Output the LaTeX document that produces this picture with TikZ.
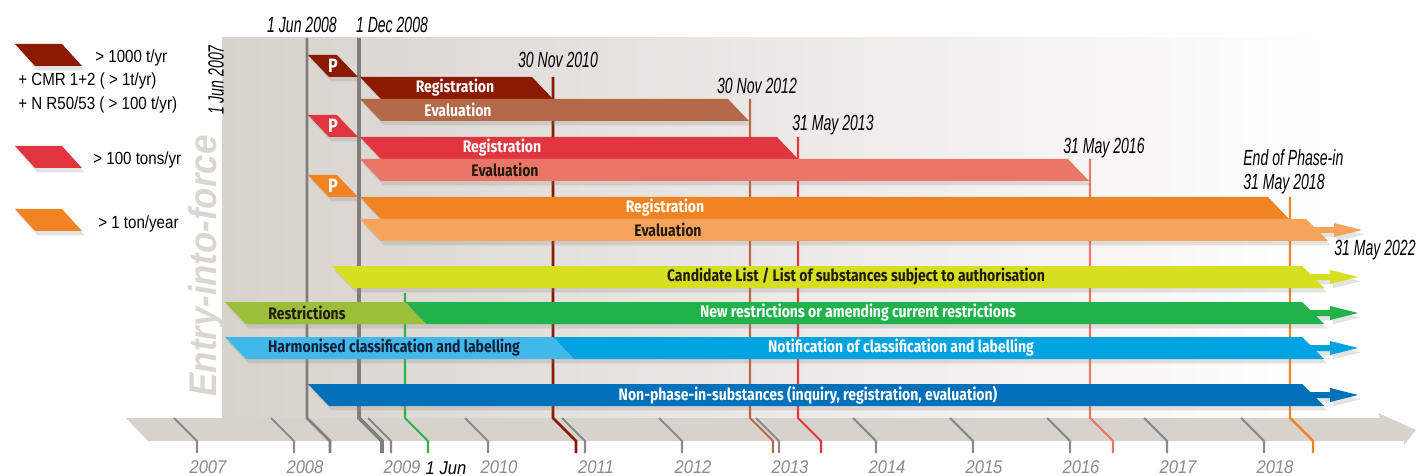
\documentclass[tikz,border=0pt]{standalone}
\usepackage{fontspec}
\usetikzlibrary{shadows}
\setmainfont{Liberation Sans}
\newfontfamily\barfam[FakeStretch=0.84]{Fira Sans}
\newfontfamily\datefam[FakeStretch=0.64]{Liberation Sans}
\newfontfamily\yearfam[FakeStretch=0.9]{Liberation Sans}
\newfontfamily\legfam[FakeStretch=0.86]{Liberation Sans}
\newcommand{\barfont}{\barfam\fontsize{9.5}{10}\selectfont\bfseries}
\newcommand{\datefont}{\datefam\fontsize{12.5}{14}\selectfont\itshape}
\newcommand{\yearfont}{\yearfam\fontsize{10.5}{12}\selectfont\itshape}
\newcommand{\legfont}{\legfam\fontsize{10}{12}\selectfont}
\definecolor{regdark}{HTML}{8B1A00}
\definecolor{evbrown}{HTML}{B4694A}
\definecolor{regred}{HTML}{E1363F}
\definecolor{evsalmon}{HTML}{EB7667}
\definecolor{regorange}{HTML}{F28322}
\definecolor{evlight}{HTML}{F6A35C}
\definecolor{candgreen}{HTML}{D7DF21}
\definecolor{restolive}{HTML}{9BBF3B}
\definecolor{newgreen}{HTML}{22B24C}
\definecolor{harmblue}{HTML}{40B8EA}
\definecolor{notblue}{HTML}{00A3E1}
\definecolor{npblue}{HTML}{0070B9}
\definecolor{evgrey}{HTML}{7E7E7E}
\definecolor{evgreen}{HTML}{2DB34A}
\definecolor{yeargrey}{HTML}{8A8A8A}
\definecolor{panelgrey}{HTML}{D8D2CC}
\definecolor{panelmid}{HTML}{E7E4E1}
\definecolor{entrygrey}{HTML}{DAD6D2}
\definecolor{darktext}{HTML}{231A12}
\definecolor{navytext}{HTML}{10203A}

% bar ending with a slant, and bar ending with an arrow
\newcommand{\slantbar}[4]{\fill[#4, shadowed] (#1,#3) -- (#2,#3) -- (#2+21,#3+22) -- (#1+21,#3+22) -- cycle;}
\newcommand{\arrowbar}[4]{\fill[#4, shadowed] (#1,#3) -- (#2,#3) -- (#2+8,#3+8) -- (#2+28,#3+8) -- (#2+28,#3+4)
  -- (#2+56,#3+11) -- (#2+28,#3+18) -- (#2+28,#3+14) -- (#2+14,#3+14) -- (#2+22,#3+22) -- (#1+21,#3+22) -- cycle;}

\begin{document}
\begin{tikzpicture}[x=0.02cm, y=-0.02cm,
  shadowed/.style={drop shadow={opacity=.22, shadow xshift=1.5pt, shadow yshift=-2.5pt}},
  bartext/.style={font=\barfont, inner sep=0pt},
  datetext/.style={font=\datefont, inner sep=0pt},
  yeartext/.style={font=\yearfont, text=yeargrey, inner sep=0pt},
  legtext/.style={font=\legfont, anchor=west, inner sep=0pt},
  yeartick/.style={yeargrey, line width=1.2pt}]
\useasboundingbox (0,0) rectangle (1416,476);

% panel and time axis
\shade[left color=panelgrey, middle color=panelmid, right color=white] (222,38) rectangle (1330,418);
\fill[panelgrey] (126,418) -- (1380,418) -- (1378,413) -- (1416,430) -- (1404,445) -- (1404,441) -- (148,441) -- cycle;

% years
\foreach \yr [count=\i from 0] in {2007,...,2018} {
  \pgfmathsetmacro{\x}{197+97*\i}
  \draw[yeartick] (\x-23,418) -- (\x,441) -- (\x,453);
  \node[yeartext] (y\yr) at (\x+11,467) {\yr};
}

% event lines
\foreach \x/\ytop/\c/\w in {307/38/evgrey/1.6, 359/38/evgrey/2.2, 405/293/evgreen/1.2,
    553/77/regdark/1.6, 750/99/evbrown/1.2, 798/137/regred/1.2, 1090/159/evsalmon/1.2, 1290/197/regorange/1.4}
  \draw[\c, line width=\w pt] (\x,\ytop) -- (\x,418) -- ++(23,23) -- ++(0,12);

% dates
\node[datetext] (jun08) at (302,25) {1 Jun 2008};
\node[datetext] (dec08) at (392,25) {1 Dec 2008};
\node[datetext] (nov10) at (558,60) {30 Nov 2010};
\node[datetext] (nov12) at (757,86) {30 Nov 2012};
\node[datetext] (may13) at (833,125) {31 May 2013};
\node[datetext] (may16) at (1104,148) {31 May 2016};
\node[datetext, align=left, anchor=west] (may18) at (1243,172) {End of Phase-in\\31 May 2018};
\node[datetext] (may22) at (1375,250) {31 May 2022};
\node[datetext, font=\yearfont, text=black] (jun09) at (446,468) {1 Jun};
\node[datetext, rotate=90] (jun07) at (216,80) {1 Jun 2007};
\node[font=\yearfam\fontsize{22}{24}\selectfont\itshape\bfseries, text=entrygrey, rotate=90, inner sep=0pt] (entry) at (207,266) {Entry-into-force};

% legend
\foreach \t/\c in {44/regdark, 146/regred, 209/regorange}
  \fill[\c, shadowed] (15,\t) -- (62,\t) -- (82,\t+22) -- (35,\t+22) -- cycle;
\node[legtext] (leg1) at (95,58) {> 1000 t/yr};
\node[legtext] (leg2) at (18,81) {+ CMR 1+2 ( > 1t/yr)};
\node[legtext] (leg3) at (18,105) {+ N R50/53 ( > 100 t/yr)};
\node[legtext] (leg4) at (93,160) {> 100 tons/yr};
\node[legtext] (leg5) at (98,224) {> 1 ton/year};

% pre-registration
\foreach \t/\c in {55/regdark, 115/regred, 175/regorange} {
  \fill[\c, shadowed] (308,\t) -- (337,\t) -- (358,\t+22) -- (329,\t+22) -- cycle;
  \node[bartext, text=white, font=\barfont\fontsize{11}{12}\selectfont] (p\t) at (333,\t+11) {P};
}

% registration and evaluation
\slantbar{360}{532}{77}{regdark}
\node[bartext, text=white] (reg1) at (455,88) {Registration};
\slantbar{360}{728}{99}{evbrown}
\node[bartext, text=white] (ev1) at (458,110) {Evaluation};
\slantbar{360}{777}{137}{regred}
\node[bartext, text=white] (reg2) at (502,148) {Registration};
\slantbar{360}{1068}{159}{evsalmon}
\node[bartext, text=darktext] (ev2) at (505,170) {Evaluation};
\slantbar{360}{1268}{197}{regorange}
\node[bartext, text=white] (reg3) at (665,208) {Registration};
\arrowbar{360}{1306}{219}{evlight}
\node[bartext, text=darktext] (ev3) at (668,230) {Evaluation};

% authorisation, restrictions, classification
\arrowbar{332}{1302}{266}{candgreen}
\node[bartext, text=darktext] (cand) at (856,277) {Candidate List / List of substances subject to authorisation};
\arrowbar{405}{1302}{302}{newgreen}
\node[bartext, text=white] (newres) at (858,313) {New restrictions or amending current restrictions};
\slantbar{225}{405}{302}{restolive}
\node[bartext, text=darktext] (res) at (307,313) {Restrictions};
\arrowbar{553}{1302}{337}{notblue}
\node[bartext, text=white] (notif) at (901,348) {Notification of classification and labelling};
\slantbar{225}{553}{337}{harmblue}
\node[bartext, text=navytext] (harm) at (394,348) {Harmonised classification and labelling};
\arrowbar{308}{1302}{384}{npblue}
\node[bartext, text=white] (nonphase) at (808,395) {Non-phase-in-substances (inquiry, registration, evaluation)};
\end{tikzpicture}
\end{document}
